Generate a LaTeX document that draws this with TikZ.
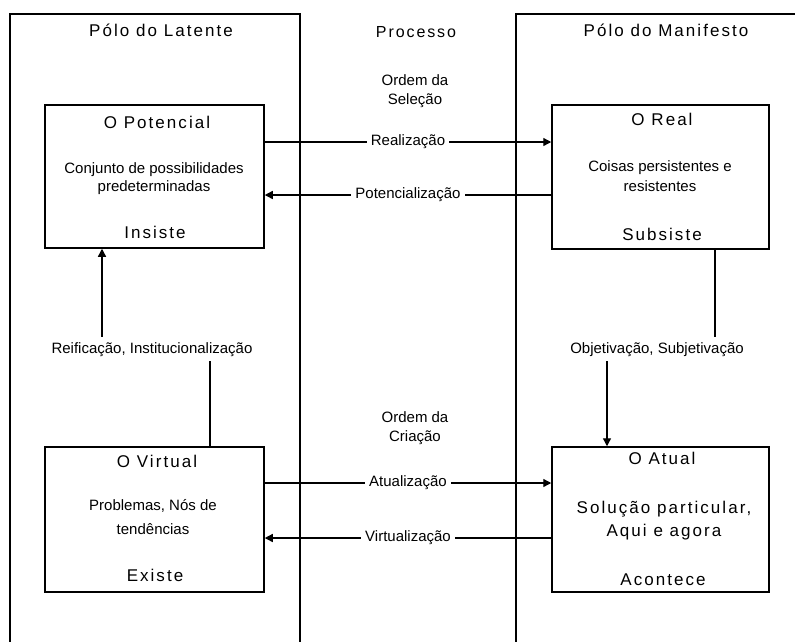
\documentclass[tikz,border=0pt]{standalone}
\usepackage{fontspec}
\setmainfont{Liberation Sans}
\newfontfamily\bigfont[LetterSpace=12]{Liberation Sans}
\usetikzlibrary{arrows.meta}
\begin{document}
\begin{tikzpicture}[x=1pt,y=-1pt,
  big/.style={font=\bigfont\fontsize{17}{20}\selectfont, inner sep=0pt, anchor=base},
  small/.style={font=\fontsize{15}{18}\selectfont, inner sep=0pt, anchor=base},
  col/.style={draw, line width=1.5pt},
  box/.style={draw, line width=1.5pt, inner sep=0pt},
  conn/.style={line width=1.3pt},
  arr/.style={conn, -{Triangle[length=8pt,width=8pt]}},
  lbl/.style={font=\fontsize{15}{18}\selectfont, fill=white, inner xsep=4pt, inner ysep=1pt},
  vlbl/.style={font=\fontsize{15}{18}\selectfont, inner xsep=0pt, inner ysep=5pt, anchor=base}]
\useasboundingbox (0,0) rectangle (795,641);
\clip (0,0) rectangle (795,641);
\fill[white] (0,0) rectangle (795,641);
% columns
\draw[col] (10,680) -- (10,14) -- (300,14) -- (300,680);
\draw[col] (516,680) -- (516,14) -- (830,14);
% titles
\node[big] (tlat) at (161,36) {Pólo do Latente};
\node[font=\bigfont\fontsize{16}{19}\selectfont, inner sep=0pt, anchor=base] (tproc) at (416,37) {Processo};
\node[big] (tman) at (666,36) {Pólo do Manifesto};
\node[small] (os1) at (415,85) {Ordem da};
\node[small] (os2) at (415,104) {Seleção};
\node[small] (oc1) at (415,422) {Ordem da};
\node[small] (oc2) at (415,441) {Criação};
% boxes
\node[box, minimum width=219pt, minimum height=143pt] (pot) at (154.5,176.5) {};
\node[box, minimum width=217pt, minimum height=144pt] (real) at (660.5,177) {};
\node[box, minimum width=219pt, minimum height=145pt] (vir) at (154.5,519.5) {};
\node[box, minimum width=217pt, minimum height=145pt] (atual) at (660.5,519.5) {};
% box texts
\node[big] (pott) at (157,128) {O Potencial};
\node[small] (potd1) at (154,173) {Conjunto de possibilidades};
\node[small] (potd2) at (154,191) {predeterminadas};
\node[big] (potv) at (155,238) {Insiste};
\node[big] (realt) at (662,125) {O Real};
\node[small] (reald1) at (660,171) {Coisas persistentes e};
\node[small] (reald2) at (660,191) {resistentes};
\node[big] (realv) at (662,240) {Subsiste};
\node[big] (virt) at (157,467) {O Virtual};
\node[small] (vird1) at (153,510) {Problemas, Nós de};
\node[small] (vird2) at (153,534) {tendências};
\node[big] (virv) at (155,581) {Existe};
\node[big] (atut) at (662,464) {O Atual};
\node[big] (atud1) at (664,513) {Solução particular,};
\node[big] (atud2) at (664,536) {Aqui e agora};
\node[big] (atuv) at (663,585) {Acontece};
% horizontal connectors
\coordinate (yR) at (0,142);
\coordinate (yP) at (0,195);
\coordinate (yA) at (0,483);
\coordinate (yV) at (0,538);
\draw[arr] (pot.east |- yR) -- (real.west |- yR) node[midway, lbl] {Realização};
\draw[arr] (real.west |- yP) -- (pot.east |- yP) node[midway, lbl] {Potencialização};
\draw[arr] (vir.east |- yA) -- (atual.west |- yA) node[midway, lbl] {Atualização};
\draw[arr] (atual.west |- yV) -- (vir.east |- yV) node[midway, lbl] {Virtualização};
% vertical connectors
\node[vlbl] (reif) at (152,353) {Reificação, Institucionalização};
\node[vlbl] (obj) at (657,353) {Objetivação, Subjetivação};
\coordinate (lx) at (102,0);
\coordinate (lx2) at (210,0);
\coordinate (rx) at (715,0);
\coordinate (ax) at (607,0);
\draw[arr] (reif.north -| lx) -- (pot.south -| lx);
\draw[conn] (vir.north -| lx2) -- (reif.south -| lx2);
\draw[conn] (real.south -| rx) -- (obj.north -| rx);
\draw[arr] (obj.south -| ax) -- (atual.north -| ax);
\end{tikzpicture}
\end{document}
